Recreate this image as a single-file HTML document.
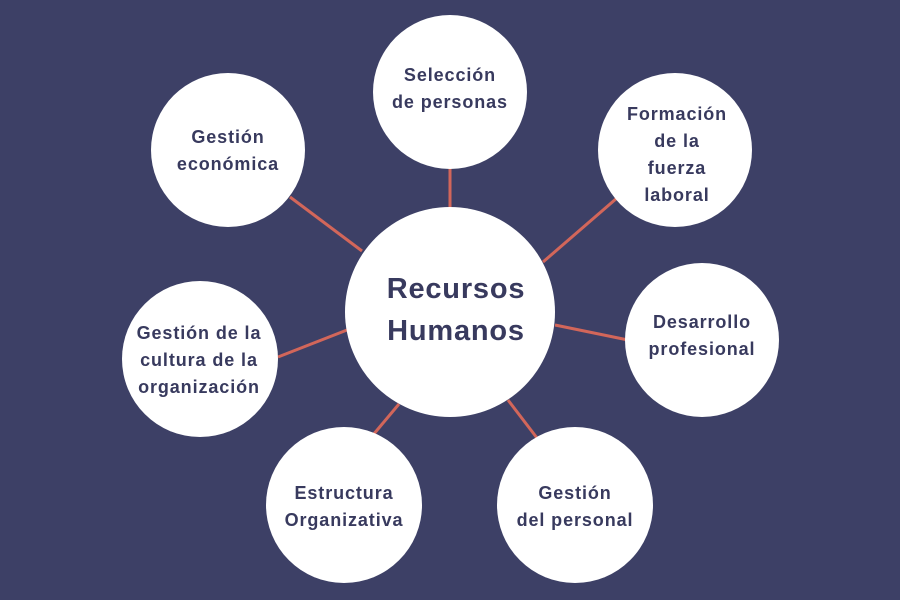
<!DOCTYPE html>
<html><head><style>
body{margin:0;width:900px;height:600px;background:#3d4066;overflow:hidden}
svg{display:block}
text{font-family:"Liberation Sans",sans-serif;font-weight:bold;fill:#383a5e;text-anchor:middle}
</style></head><body>
<svg width="900" height="600">
<g stroke="#d2665a" stroke-width="3">
<line x1="450" y1="165" x2="450" y2="210"/>
<line x1="290" y1="197" x2="362" y2="251"/>
<line x1="617" y1="198" x2="543" y2="262"/>
<line x1="555" y1="325" x2="628" y2="340"/>
<line x1="278" y1="357" x2="347" y2="330"/>
<line x1="373" y1="435" x2="399" y2="404"/>
<line x1="508" y1="400" x2="537" y2="438"/>
</g>
<g fill="#fff">
<circle cx="450" cy="312" r="105"/>
<circle cx="450" cy="92" r="77"/>
<circle cx="675" cy="150" r="77"/>
<circle cx="228" cy="150" r="77"/>
<circle cx="702" cy="340" r="77"/>
<circle cx="200" cy="359" r="78"/>
<circle cx="344" cy="505" r="78"/>
<circle cx="575" cy="505" r="78"/>
</g>
<g font-size="29" letter-spacing="0.8">
<text x="456" y="298">Recursos</text>
<text x="456" y="340">Humanos</text>
</g>
<g font-size="18" letter-spacing="0.9">
<text x="450" y="81">Selección</text>
<text x="450" y="108">de personas</text>
<text x="677" y="120">Formación</text>
<text x="677" y="147">de la</text>
<text x="677" y="174">fuerza</text>
<text x="677" y="201">laboral</text>
<text x="228" y="143">Gestión</text>
<text x="228" y="170">económica</text>
<text x="702" y="328">Desarrollo</text>
<text x="702" y="355">profesional</text>
<text x="199" y="339">Gestión de la</text>
<text x="199" y="366">cultura de la</text>
<text x="199" y="393">organización</text>
<text x="344" y="499">Estructura</text>
<text x="344" y="526">Organizativa</text>
<text x="575" y="499">Gestión</text>
<text x="575" y="526">del personal</text>
</g>
</svg>
</body></html>
